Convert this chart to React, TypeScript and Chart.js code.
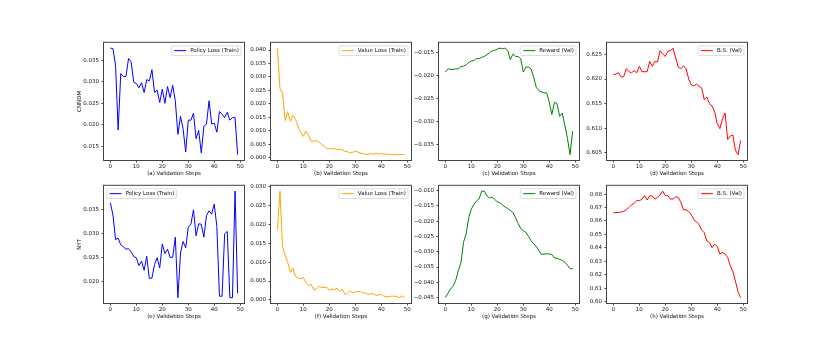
import React, { useEffect, useRef } from "react";
import { Chart, registerables } from "chart.js";
Chart.register(...registerables);

// ---------- data ----------
const steps = [0,1,2,3,4,5,6,7,8,9,10,11,12,13,14,15,16,17,18,19,20,21,22,23,24,25,26,27,28,29,30,31,32,33,34,35,36,37,38,39,40,41,42,43,44,45,46,47,48,49];
const xTicks = [0, 10, 20, 30, 40, 50];

const policyCNNDM = [0.0378,0.0377,0.0338,0.0188,0.0319,0.0312,0.0312,0.0354,0.0346,0.0299,
  0.0296,0.0286,0.0298,0.0275,0.0305,0.0302,0.0328,0.0275,0.0281,0.0252,
  0.0283,0.0250,0.0289,0.0263,0.0292,0.0256,0.0178,0.0220,0.0191,0.0137,
  0.0211,0.0211,0.0227,0.0168,0.0187,0.0135,0.0197,0.0202,0.0256,0.0202,
  0.0204,0.0183,0.0231,0.0225,0.0217,0.0229,0.0211,0.0217,0.0217,0.0131];
const valueCNNDM = [0.0407,0.0257,0.0240,0.0138,0.0171,0.0135,0.0157,0.0142,0.0114,0.0095,
  0.0079,0.0099,0.0083,0.0061,0.0061,0.0064,0.0059,0.0049,0.0043,0.0034,
  0.0034,0.0032,0.0034,0.0029,0.0032,0.0028,0.0024,0.0022,0.0017,0.0020,
  0.0024,0.0021,0.0017,0.0015,0.0012,0.0012,0.0015,0.0013,0.0017,0.0013,
  0.0015,0.0013,0.0013,0.0012,0.0011,0.0011,0.0011,0.0011,0.0011,0.0012];
const rewardCNNDM = [-0.0193,-0.0186,-0.0187,-0.0187,-0.0186,-0.0186,-0.0181,-0.0180,-0.0177,-0.0172,
  -0.0169,-0.0168,-0.0163,-0.0164,-0.0161,-0.0159,-0.0155,-0.0151,-0.0147,-0.0146,
  -0.0143,-0.0141,-0.0142,-0.0141,-0.0146,-0.0166,-0.0154,-0.0159,-0.0159,-0.0164,
  -0.0193,-0.0182,-0.0182,-0.0186,-0.0204,-0.0226,-0.0233,-0.0236,-0.0238,-0.0238,
  -0.0258,-0.0285,-0.0258,-0.0262,-0.0289,-0.0282,-0.0308,-0.0337,-0.0372,-0.0321];
const bsCNNDM = [0.6209,0.6210,0.6213,0.6204,0.6205,0.6221,0.6215,0.6213,0.6217,0.6213,
  0.6226,0.6215,0.6215,0.6215,0.6236,0.6226,0.6236,0.6235,0.6258,0.6251,
  0.6246,0.6257,0.6258,0.6263,0.6243,0.6224,0.6221,0.6227,0.6221,0.6200,
  0.6188,0.6186,0.6190,0.6185,0.6182,0.6158,0.6163,0.6150,0.6145,0.6133,
  0.6109,0.6099,0.6119,0.6131,0.6077,0.6084,0.6086,0.6055,0.6046,0.6075];
const policyNYT = [0.0364,0.0338,0.0287,0.0290,0.0276,0.0272,0.0267,0.0268,0.0261,0.0252,
  0.0249,0.0233,0.0242,0.0223,0.0252,0.0206,0.0207,0.0235,0.0249,0.0228,
  0.0278,0.0258,0.0267,0.0250,0.0250,0.0292,0.0166,0.0259,0.0283,0.0270,
  0.0313,0.0319,0.0349,0.0295,0.0320,0.0319,0.0292,0.0337,0.0347,0.0340,
  0.0361,0.0314,0.0169,0.0169,0.0299,0.0304,0.0166,0.0166,0.0388,0.0175];
const valueNYT = [0.0186,0.0288,0.0141,0.0119,0.0099,0.0073,0.0084,0.0062,0.0058,0.0056,
  0.0059,0.0046,0.0038,0.0041,0.0027,0.0029,0.0036,0.0033,0.0033,0.0034,
  0.0025,0.0029,0.0027,0.0031,0.0023,0.0029,0.0014,0.0018,0.0025,0.0018,
  0.0022,0.0022,0.0022,0.0018,0.0018,0.0014,0.0017,0.0016,0.0012,0.0013,
  0.0015,0.0010,0.0008,0.0009,0.0010,0.0010,0.0009,0.0006,0.0011,0.0006];
const rewardNYT = [-0.0450,-0.0436,-0.0422,-0.0412,-0.0393,-0.0361,-0.0336,-0.0269,-0.0242,-0.0188,
  -0.0161,-0.0145,-0.0134,-0.0127,-0.0102,-0.0102,-0.0118,-0.0124,-0.0122,-0.0129,
  -0.0137,-0.0140,-0.0147,-0.0154,-0.0159,-0.0165,-0.0172,-0.0188,-0.0207,-0.0224,
  -0.0231,-0.0237,-0.0250,-0.0264,-0.0274,-0.0283,-0.0296,-0.0309,-0.0307,-0.0307,
  -0.0307,-0.0309,-0.0321,-0.0321,-0.0325,-0.0328,-0.0334,-0.0344,-0.0355,-0.0355];
const bsNYT = [0.6659,0.6663,0.6663,0.6666,0.6673,0.6683,0.6700,0.6720,0.6732,0.6751,
  0.6751,0.6761,0.6788,0.6756,0.6788,0.6785,0.6763,0.6776,0.6793,0.6822,
  0.6788,0.6788,0.6763,0.6763,0.6780,0.6776,0.6737,0.6683,0.6683,0.6671,
  0.6646,0.6610,0.6593,0.6573,0.6532,0.6512,0.6451,0.6439,0.6402,0.6427,
  0.6410,0.6354,0.6366,0.6354,0.6329,0.6268,0.6224,0.6151,0.6073,0.6029];

const yTicksPolicyCNNDM = [0.015, 0.02, 0.025, 0.03, 0.035];
const yTicksValueCNNDM = [0, 0.005, 0.01, 0.015, 0.02, 0.025, 0.03, 0.035, 0.04];
const yTicksRewardCNNDM = [-0.035, -0.03, -0.025, -0.02, -0.015];
const yTicksBsCNNDM = [0.605, 0.61, 0.615, 0.62, 0.625];
const yTicksPolicyNYT = [0.02, 0.025, 0.03, 0.035];
const yTicksValueNYT = [0, 0.005, 0.01, 0.015, 0.02, 0.025, 0.03];
const yTicksRewardNYT = [-0.045, -0.04, -0.035, -0.03, -0.025, -0.02, -0.015, -0.01];
const yTicksBsNYT = [0.6, 0.61, 0.62, 0.63, 0.64, 0.65, 0.66, 0.67, 0.68];

const seriesLabels = ["Policy Loss (Train)", "Value Loss (Train)", "Reward (Val)", "B.S. (Val)"];
const seriesColors = ["#0000ff", "#ffa500", "#008000", "#ff0000"];
const rowNames = ["CNNDM", "NYT"];
const xTitles = ["(a) Validation Steps", "(b) Validation Steps", "(c) Validation Steps", "(d) Validation Steps",
  "(e) Validation Steps", "(f) Validation Steps", "(g) Validation Steps", "(h) Validation Steps"];

// ---------- layout ----------
const COL_L = [104, 271, 439, 607];
const ROW_T = [41, 184];
const PLOT_W = 140;
const PLOT_H = 119;
const AX_W = 30;
const AX_H = 18;
const PAD = 4;
const FONT = "DejaVu Sans";
const FS = 5.5;

type Panel = {
  values: number[];
  yTicks: number[];
  decimals: number;
  col: number;
  row: number;
  legendLeft: boolean;
};

const panels: Panel[] = [
  { values: policyCNNDM, yTicks: yTicksPolicyCNNDM, decimals: 3, col: 0, row: 0, legendLeft: false },
  { values: valueCNNDM, yTicks: yTicksValueCNNDM, decimals: 3, col: 1, row: 0, legendLeft: false },
  { values: rewardCNNDM, yTicks: yTicksRewardCNNDM, decimals: 3, col: 2, row: 0, legendLeft: false },
  { values: bsCNNDM, yTicks: yTicksBsCNNDM, decimals: 3, col: 3, row: 0, legendLeft: false },
  { values: policyNYT, yTicks: yTicksPolicyNYT, decimals: 3, col: 0, row: 1, legendLeft: true },
  { values: valueNYT, yTicks: yTicksValueNYT, decimals: 3, col: 1, row: 1, legendLeft: false },
  { values: rewardNYT, yTicks: yTicksRewardNYT, decimals: 3, col: 2, row: 1, legendLeft: false },
  { values: bsNYT, yTicks: yTicksBsNYT, decimals: 2, col: 3, row: 1, legendLeft: false },
];

const fmt = (v: number, d: number) => {
  const s = Math.abs(v).toFixed(d);
  return v < -1e-12 ? "\u2212" + s : s;
};

const framePlugin = {
  id: "frame",
  afterDatasetsDraw(chart: any) {
    const { ctx, chartArea: a } = chart;
    ctx.save();
    ctx.strokeStyle = "#444";
    ctx.lineWidth = 1;
    ctx.strokeRect(a.left - 0.5, a.top - 0.5, a.right - a.left + 1, a.bottom - a.top + 1);
    ctx.restore();
  },
};

function makeLegend(label: string, color: string, left: boolean) {
  return {
    id: "mplLegend",
    afterDraw(chart: any) {
      const { ctx, chartArea: a } = chart;
      ctx.save();
      ctx.font = `${FS}px "${FONT}"`;
      const tw = ctx.measureText(label).width;
      const padL = 3, lineLen = 12, gap = 4, padR = 2, h = 9.7;
      const w = padL + lineLen + gap + tw + padR;
      const x = left ? a.left + 2.5 : a.right - 3 - w;
      const y = a.top + 3;
      const r = 1.5;
      ctx.beginPath();
      ctx.moveTo(x + r, y);
      ctx.lineTo(x + w - r, y);
      ctx.arcTo(x + w, y, x + w, y + r, r);
      ctx.lineTo(x + w, y + h - r);
      ctx.arcTo(x + w, y + h, x + w - r, y + h, r);
      ctx.lineTo(x + r, y + h);
      ctx.arcTo(x, y + h, x, y + h - r, r);
      ctx.lineTo(x, y + r);
      ctx.arcTo(x, y, x + r, y, r);
      ctx.closePath();
      ctx.fillStyle = "rgba(255,255,255,0.8)";
      ctx.fill();
      ctx.strokeStyle = "#d6d6d6";
      ctx.lineWidth = 0.8;
      ctx.stroke();
      ctx.beginPath();
      ctx.strokeStyle = color;
      ctx.lineWidth = 1;
      ctx.moveTo(x + padL, y + h / 2);
      ctx.lineTo(x + padL + lineLen, y + h / 2);
      ctx.stroke();
      ctx.fillStyle = "#111";
      ctx.textBaseline = "middle";
      ctx.textAlign = "left";
      ctx.fillText(label, x + padL + lineLen + gap, y + h / 2 + 0.3);
      ctx.restore();
    },
  };
}

function PanelChart({ p, idx }: { p: Panel; idx: number }) {
  const ref = useRef<HTMLCanvasElement>(null);
  const cw = AX_W + PLOT_W + PAD;
  const ch = PAD + PLOT_H + AX_H;
  useEffect(() => {
    const lo = Math.min(...p.values);
    const hi = Math.max(...p.values);
    const m = (hi - lo) * 0.05;
    const xm = (steps[steps.length - 1] - steps[0]) * 0.05;
    const label = seriesLabels[p.col];
    const color = seriesColors[p.col];
    const tickFont = { family: FONT, size: FS };
    const chart = new Chart(ref.current as HTMLCanvasElement, {
      type: "line",
      data: {
        datasets: [
          {
            label,
            data: steps.map((s, i) => ({ x: s, y: p.values[i] })),
            borderColor: color,
            backgroundColor: color,
            borderWidth: 1,
            pointRadius: 0,
            fill: false,
            tension: 0,
          },
        ],
      },
      options: {
        animation: false,
        responsive: false,
        maintainAspectRatio: false,
        devicePixelRatio: 1,
        layout: { padding: { top: PAD, right: PAD, left: 0, bottom: 0 } },
        plugins: { legend: { display: false }, tooltip: { enabled: false }, title: { display: false } },
        scales: {
          x: {
            type: "linear",
            min: steps[0] - xm,
            max: steps[steps.length - 1] + xm,
            afterBuildTicks: (s: any) => {
              s.ticks = xTicks.map((v) => ({ value: v }));
            },
            afterFit: (s: any) => {
              s.height = AX_H;
            },
            grid: { drawOnChartArea: false, drawTicks: true, tickLength: 2.5, color: "#444", lineWidth: 1 },
            border: { display: false },
            ticks: {
              autoSkip: false,
              maxRotation: 0,
              padding: 0.5,
              color: "#111",
              font: tickFont,
              callback: (v: any) => String(v),
            },
            title: {
              display: true,
              text: xTitles[idx],
              color: "#111",
              font: tickFont,
              padding: { top: 0, bottom: 1 },
            },
          },
          y: {
            type: "linear",
            min: lo - m,
            max: hi + m,
            afterBuildTicks: (s: any) => {
              s.ticks = p.yTicks.map((v) => ({ value: v }));
            },
            afterFit: (s: any) => {
              s.width = AX_W;
            },
            grid: { drawOnChartArea: false, drawTicks: true, tickLength: 2.5, color: "#444", lineWidth: 1 },
            border: { display: false },
            ticks: {
              autoSkip: false,
              padding: 2.5,
              color: "#111",
              font: tickFont,
              callback: (v: any) => fmt(Number(v), p.decimals),
            },
            title: {
              display: p.col === 0,
              text: rowNames[p.row],
              color: "#111",
              font: tickFont,
              padding: { top: 2.2, bottom: 0 },
            },
          },
        },
      },
      plugins: [framePlugin, makeLegend(label, color, p.legendLeft)],
    } as any);
    return () => chart.destroy();
  }, []);
  return (
    <canvas
      ref={ref}
      width={cw}
      height={ch}
      style={{
        position: "absolute",
        left: COL_L[p.col] - AX_W,
        top: ROW_T[p.row] - PAD,
        width: cw,
        height: ch,
      }}
    />
  );
}

export default function App() {
  return (
    <div style={{ position: "absolute", left: 0, top: 0, width: 830, height: 346, background: "#fff", overflow: "hidden" }}>
      {panels.map((p, i) => (
        <PanelChart key={i} p={p} idx={i} />
      ))}
    </div>
  );
}
